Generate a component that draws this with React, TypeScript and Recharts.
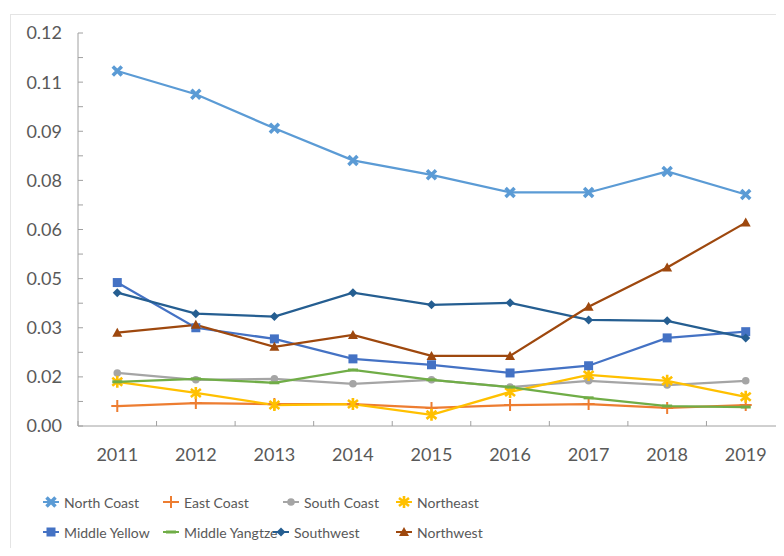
import React from "react";
import { Legend, Line, LineChart, XAxis, YAxis } from "recharts";

const years = ["2011", "2012", "2013", "2014", "2015", "2016", "2017", "2018", "2019"];

const northCoast = [0.1084, 0.1013, 0.0909, 0.0811, 0.0767, 0.0713, 0.0713, 0.0777, 0.0707];
const eastCoast = [0.0061, 0.007, 0.0067, 0.0067, 0.0055, 0.0064, 0.0067, 0.0055, 0.0064];
const southCoast = [0.0162, 0.0141, 0.0144, 0.0129, 0.0141, 0.0119, 0.0138, 0.0125, 0.0138];
const northeast = [0.0135, 0.0101, 0.0064, 0.0067, 0.0034, 0.0104, 0.0156, 0.0138, 0.0089];
const middleYellow = [0.0438, 0.03, 0.0266, 0.0205, 0.0187, 0.0162, 0.0184, 0.0269, 0.0288];
const middleYangtze = [0.0135, 0.0144, 0.0132, 0.0171, 0.0141, 0.0119, 0.0086, 0.0061, 0.0058];
const southwest = [0.0407, 0.0343, 0.0334, 0.0407, 0.037, 0.0376, 0.0324, 0.0321, 0.0269];
const northwest = [0.0285, 0.0309, 0.0242, 0.0278, 0.0214, 0.0214, 0.0364, 0.0484, 0.0621];

// axis ticks every 0.0075, labelled on every other one (as printed in the picture)
const yTicks = [0, 0.0075, 0.015, 0.0225, 0.03, 0.0375, 0.045, 0.0525, 0.06, 0.0675, 0.075, 0.0825, 0.09, 0.0975, 0.105, 0.1125, 0.12];
const yTickLabels = ["0.00", "0.02", "0.03", "0.05", "0.06", "0.08", "0.09", "0.11", "0.12"];
const xEdges = [0.5, 1.5, 2.5, 3.5, 4.5, 5.5, 6.5, 7.5, 8.5, 9.5];

const series = [
  { key: "northCoast", name: "North Coast", values: northCoast, color: "#5B9BD5", shape: "x" },
  { key: "eastCoast", name: "East Coast", values: eastCoast, color: "#ED7D31", shape: "plus" },
  { key: "southCoast", name: "South Coast", values: southCoast, color: "#A5A5A5", shape: "circle" },
  { key: "northeast", name: "Northeast", values: northeast, color: "#FFC000", shape: "star" },
  { key: "middleYellow", name: "Middle Yellow", values: middleYellow, color: "#4472C4", shape: "square" },
  { key: "middleYangtze", name: "Middle Yangtze", values: middleYangtze, color: "#70AD47", shape: "dash" },
  { key: "southwest", name: "Southwest", values: southwest, color: "#255E91", shape: "diamond" },
  { key: "northwest", name: "Northwest", values: northwest, color: "#9E480E", shape: "triangle" },
];

const data = years.map((year, i) => {
  const row: Record<string, number | string> = { x: i + 1, year };
  series.forEach((s) => {
    row[s.key] = s.values[i];
  });
  return row;
});

const textColor = "#595959";
const axisColor = "#a0a0a0";
const font = "Lato, 'Open Sans', sans-serif";

function Marker({ shape, color, cx, cy }: { shape: string; color: string; cx: number; cy: number }) {
  switch (shape) {
    case "x":
      return (
        <path
          d={`M${cx - 4.5},${cy - 4.5}L${cx + 4.5},${cy + 4.5}M${cx + 4.5},${cy - 4.5}L${cx - 4.5},${cy + 4.5}`}
          stroke={color}
          strokeWidth={3.5}
        />
      );
    case "plus":
      return (
        <path d={`M${cx - 6},${cy}L${cx + 6},${cy}M${cx},${cy - 6}L${cx},${cy + 6}`} stroke={color} strokeWidth={2} />
      );
    case "circle":
      return <circle cx={cx} cy={cy} r={3.8} fill={color} />;
    case "star":
      return (
        <path
          d={`M${cx},${cy - 6}L${cx},${cy + 6}M${cx - 5},${cy - 4}L${cx + 5},${cy + 4}M${cx + 5},${cy - 4}L${cx - 5},${cy + 4}`}
          stroke={color}
          strokeWidth={2.6}
        />
      );
    case "square":
      return <rect x={cx - 4.5} y={cy - 4.5} width={9} height={9} fill={color} />;
    case "dash":
      return <rect x={cx - 5} y={cy - 1.5} width={10} height={3} fill={color} />;
    case "diamond":
      return <polygon points={`${cx},${cy - 4.5} ${cx + 4.5},${cy} ${cx},${cy + 4.5} ${cx - 4.5},${cy}`} fill={color} />;
    case "triangle":
      return <polygon points={`${cx},${cy - 5} ${cx + 5},${cy + 4} ${cx - 5},${cy + 4}`} fill={color} />;
    default:
      return null;
  }
}

function YearTick(props: any) {
  const { x, y, index, width } = props;
  if (index >= years.length) return null;
  const band = (width || 707) / years.length;
  return (
    <text x={x + band / 2} y={y + 33} textAnchor="middle" dominantBaseline="central" fill={textColor} fontSize={18} fontFamily={font}>
      {years[index]}
    </text>
  );
}

// legend item offsets, in chart pixels
const legendSpots = [
  { left: 35, top: 21 },
  { left: 155, top: 21 },
  { left: 275, top: 21 },
  { left: 388, top: 21 },
  { left: 35, top: 51 },
  { left: 155, top: 51 },
  { left: 265, top: 51 },
  { left: 388, top: 51 },
];

function ChartLegend() {
  return (
    <div style={{ position: "relative", height: 82, width: 700 }}>
      {series.map((s, i) => (
        <div
          key={s.key}
          style={{
            position: "absolute",
            left: legendSpots[i].left,
            top: legendSpots[i].top,
            height: 30,
            display: "flex",
            alignItems: "center",
            fontFamily: font,
            fontSize: 14,
            color: textColor,
            whiteSpace: "nowrap",
          }}
        >
          <svg width={16} height={14} style={{ marginRight: 5 }}>
            <line x1={0} y1={7} x2={16} y2={7} stroke={s.color} strokeWidth={2} />
            <Marker shape={s.shape} color={s.color} cx={8} cy={7} />
          </svg>
          {s.name}
        </div>
      ))}
    </div>
  );
}

export default function App() {
  return (
    <div style={{ position: "relative", width: 776, height: 540, overflow: "hidden", background: "#fff" }}>
      <div
        style={{
          position: "absolute",
          left: 2,
          top: 6,
          width: 800,
          height: 600,
          border: "1px solid #e4e4e4",
          boxSizing: "border-box",
        }}
      />
      <div style={{ position: "absolute", left: 0, top: 0 }}>
        <LineChart width={777} height={540} data={data} margin={{ top: 25, right: 0, bottom: 0, left: 0 }}>
          <XAxis
            dataKey="x"
            type="number"
            domain={[0.5, 9.5]}
            ticks={xEdges}
            interval={0}
            height={40}
            stroke={axisColor}
            tickSize={-5}
            tickMargin={0}
            tick={<YearTick />}
          />
          <YAxis
            type="number"
            domain={[0, 0.12]}
            ticks={yTicks}
            interval={0}
            width={70}
            stroke={axisColor}
            tickSize={-5}
            tickMargin={21}
            tickFormatter={(v: number, i: number) => (i % 2 === 0 ? yTickLabels[i / 2] : "")}
            tick={{ fill: textColor, fontSize: 18, fontFamily: font }}
          />
          <Legend verticalAlign="bottom" content={<ChartLegend />} wrapperStyle={{ left: 0 }} />
          {series.map((s) => (
            <Line
              key={s.key}
              dataKey={s.key}
              name={s.name}
              stroke={s.color}
              strokeWidth={2.25}
              isAnimationActive={false}
              activeDot={false}
              dot={(p: any) => <Marker key={`${s.key}-${p.index}`} shape={s.shape} color={s.color} cx={p.cx} cy={p.cy} />}
            />
          ))}
        </LineChart>
      </div>
    </div>
  );
}
